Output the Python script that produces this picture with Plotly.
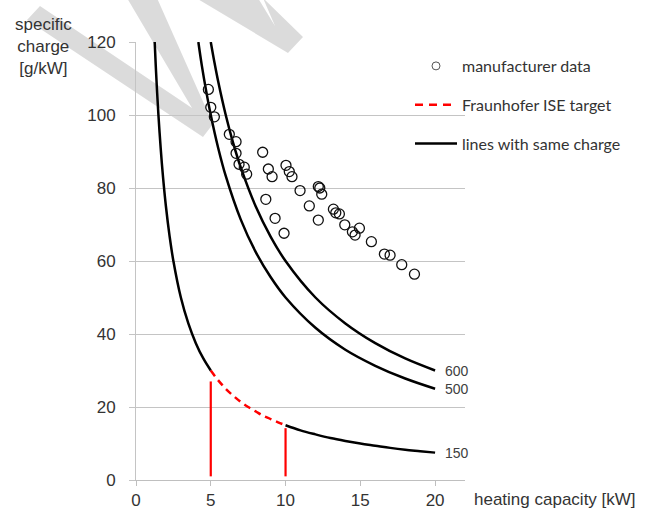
import plotly.graph_objects as go

# ---------------- data ----------------
capacity_kw = [4.84, 5.00, 5.24, 6.24, 6.69, 6.69, 6.89, 7.24, 7.40, 8.47, 8.85, 9.10,
               8.68, 9.30, 9.90, 10.03, 10.25, 10.43, 10.97, 11.59, 12.19, 12.29, 12.42,
               12.19, 13.20, 13.36, 13.60, 13.96, 14.47, 14.65, 14.94, 15.74, 16.61,
               16.99, 17.77, 18.62]
specific_charge = [107.0, 102.1, 99.5, 94.7, 92.7, 89.5, 86.5, 85.7, 83.8, 89.8, 85.2, 83.1,
                   76.9, 71.7, 67.6, 86.2, 84.5, 83.1, 79.3, 75.1, 80.4, 80.0, 78.3,
                   71.2, 74.2, 73.2, 72.9, 69.9, 68.0, 67.1, 69.0, 65.3, 61.9,
                   61.6, 59.0, 56.4]

# lines with same charge (g)
charge_labels = ["600", "500", "150"]
c600_x = [5.0, 5.25, 5.5, 6.0, 6.5, 7.0, 8.0, 9.0, 10.0, 12.0, 14.0, 16.0, 18.0, 20.0]
c600_y = [120.0, 114.3, 109.1, 100.0, 92.3, 85.7, 75.0, 66.7, 60.0, 50.0, 42.9, 37.5, 33.3, 30.0]
c500_x = [4.17, 4.4, 4.7, 5.0, 5.5, 6.0, 7.0, 8.0, 9.0, 10.0, 12.0, 14.0, 16.0, 18.0, 20.0]
c500_y = [120.0, 113.6, 106.4, 100.0, 90.9, 83.3, 71.4, 62.5, 55.6, 50.0, 41.7, 35.7, 31.3, 27.8, 25.0]
c150a_x = [1.25, 1.32, 1.4, 1.5, 1.65, 1.8, 2.0, 2.25, 2.5, 3.0, 3.5, 4.0, 4.5, 5.0]
c150a_y = [120.0, 113.6, 107.1, 100.0, 90.9, 83.3, 75.0, 66.7, 60.0, 50.0, 42.9, 37.5, 33.3, 30.0]
target_x = [5.0, 5.5, 6.0, 6.5, 7.0, 7.5, 8.0, 8.5, 9.0, 9.5, 10.0]
target_y = [30.0, 27.3, 25.0, 23.1, 21.4, 20.0, 18.8, 17.6, 16.7, 15.8, 15.0]
c150b_x = [10.0, 11.0, 12.0, 13.0, 14.0, 15.0, 16.0, 17.0, 18.0, 19.0, 20.0]
c150b_y = [15.0, 13.6, 12.5, 11.5, 10.7, 10.0, 9.4, 8.8, 8.3, 7.9, 7.5]
label_y = [30.0, 25.0, 7.5]

# Fraunhofer ISE target capacities (vertical red markers)
target_caps = [5, 10]
target_tops = [27.0, 14.2]
target_bottom = 1.0

x_ticks = [0, 5, 10, 15, 20]
y_ticks = [0, 20, 40, 60, 80, 100, 120]

# ---------------- figure ----------------
W, H = 656, 515
L, R, T, B = 136, 191, 42, 35
PW, PH = W - L - R, H - T - B


def px(xp, yp):
    return (xp - L) / PW, (H - B - yp) / PH


def path(points):
    s = ""
    for i, (a, b) in enumerate(points):
        u, v = px(a, b)
        s += ("M" if i == 0 else "L") + f"{u:.4f},{v:.4f} "
    return s + "Z"


fig = go.Figure()

black = dict(color="black", width=2.5)
for xs, ys in [(c600_x, c600_y), (c500_x, c500_y), (c150a_x, c150a_y), (c150b_x, c150b_y)]:
    fig.add_trace(go.Scatter(x=xs, y=ys, mode="lines", line=dict(black, shape="spline"),
                             showlegend=False, hoverinfo="skip"))

fig.add_trace(go.Scatter(x=target_x, y=target_y, mode="lines",
                         line=dict(color="#ff0000", width=2.5, dash="7px,5px", shape="spline"),
                         showlegend=False))

vx, vy = [], []
for c, t in zip(target_caps, target_tops):
    vx += [c, c, None]
    vy += [target_bottom, t, None]
fig.add_trace(go.Scatter(x=vx, y=vy, mode="lines", line=dict(color="#ff0000", width=2.2),
                         showlegend=False))

fig.add_trace(go.Scatter(x=capacity_kw, y=specific_charge, mode="markers",
                         marker=dict(symbol="circle-open", size=10, color="#111",
                                     line=dict(width=1.3, color="#111")),
                         showlegend=False))

# legend entries
fig.add_trace(go.Scatter(x=[None], y=[None], mode="markers", name="manufacturer data",
                         legendgroup="a",
                         marker=dict(symbol="circle-open", size=8, color="#555",
                                     line=dict(width=1, color="#555"))))
fig.add_trace(go.Scatter(x=[None], y=[None], mode="lines", name="Fraunhofer ISE target",
                         legendgroup="b",
                         line=dict(color="#ff0000", width=2.5, dash="8px,6px")))
fig.add_trace(go.Scatter(x=[None], y=[None], mode="lines", name="lines with same charge",
                         legendgroup="c", line=dict(color="black", width=2.5)))

annotations = []
for lab, yv in zip(charge_labels, label_y):
    annotations.append(dict(x=20.55, y=yv, xref="x", yref="y", text=lab, showarrow=False,
                            xanchor="left", yanchor="middle",
                            font=dict(family="Liberation Sans", size=14, color="#404040")))
u, v = px(472, 499)
annotations.append(dict(x=u, y=v, xref="paper", yref="paper", text="heating capacity [kW]",
                        showarrow=False, xanchor="left", yanchor="middle",
                        font=dict(family="Liberation Sans", size=17, color="#333")))
u, v = px(43, 47)
annotations.append(dict(x=u, y=v, xref="paper", yref="paper",
                        text="specific<br>charge<br>[g/kW]", align="center",
                        showarrow=False, xanchor="center", yanchor="middle",
                        font=dict(family="Liberation Sans", size=17, color="#333")))

shapes = [
    # watermark
    dict(type="path", xref="paper", yref="paper", layer="between",
         path=path([(40, 6), (192, 108), (127, -2), (157, -2), (213, 124), (203, 137), (27, 20)]),
         fillcolor="rgba(0,0,0,0.14)", line=dict(width=0)),
    dict(type="path", xref="paper", yref="paper", layer="between",
         path=path([(196, -2), (258, -2), (275, 26), (263, -2), (303, 37), (288, 53)]),
         fillcolor="rgba(0,0,0,0.14)", line=dict(width=0)),
    # legend background patch
    dict(type="rect", xref="paper", yref="paper", layer="between",
         x0=px(453, 0)[0], x1=px(470, 0)[0], y0=px(0, 178)[1], y1=px(0, 46)[1],
         fillcolor="white", line=dict(width=0)),
]

lx, ly = px(410, 49)
fig.update_layout(
    width=W, height=H, autosize=False,
    margin=dict(l=L, r=R, t=T, b=B, pad=0, autoexpand=False),
    paper_bgcolor="white", plot_bgcolor="white",
    font=dict(family="Liberation Sans", size=16, color="#333"),
    xaxis=dict(range=[0, 22], tickvals=x_ticks, showgrid=False, zeroline=False,
               showline=True, linecolor="#bfbfbf", linewidth=1, automargin=False,
               ticks="outside", ticklen=5, tickcolor="#bfbfbf",
               tickfont=dict(family="Liberation Sans", size=17, color="#333")),
    yaxis=dict(range=[0, 120], tickvals=y_ticks, showgrid=True, gridcolor="#c4c4c4",
               gridwidth=1, zeroline=False, showline=True, linecolor="#c4c4c4",
               automargin=False,
               ticks="outside", ticklen=6, tickcolor="#c4c4c4", ticklabelstandoff=10,
               tickfont=dict(family="Liberation Sans", size=17, color="#333")),
    legend=dict(x=lx, y=ly, xanchor="left", yanchor="top", bgcolor="rgba(0,0,0,0)",
                font=dict(family="Lato", size=16, color="#333"), itemwidth=42,
                tracegroupgap=15),
    annotations=annotations,
    shapes=shapes,
)

fig.write_html("out.html", config={"displayModeBar": False},
               post_script="document.body.style.margin='0px';")
